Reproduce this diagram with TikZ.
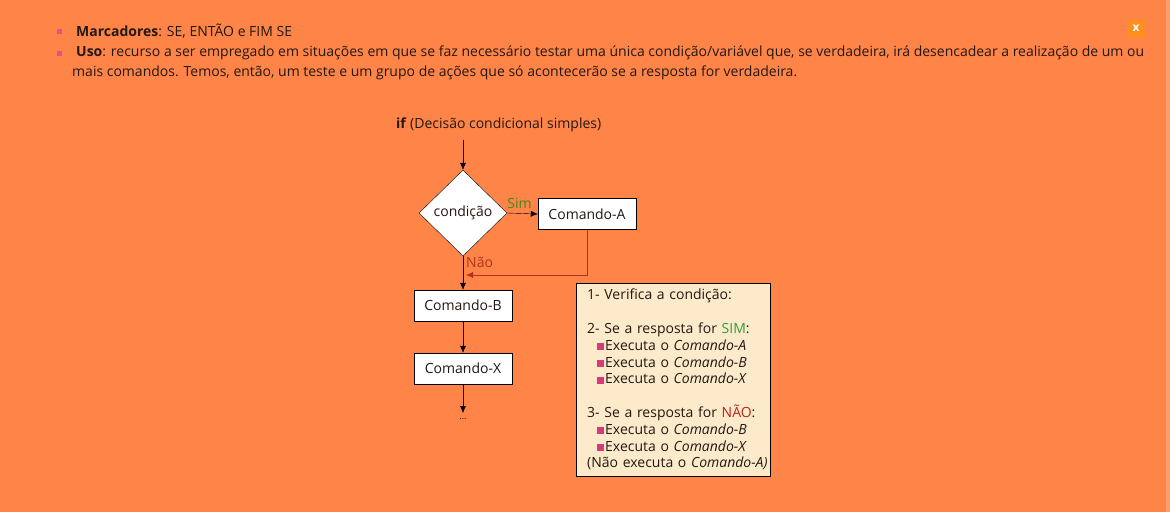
\documentclass[tikz,border=0pt]{standalone}
\usepackage{fontspec}
\setmainfont{Open Sans}
\usepackage{xcolor}
\usetikzlibrary{shapes.geometric,arrows.meta}
\definecolor{fundo}{HTML}{FF8448}
\definecolor{botao}{HTML}{FF9020}
\definecolor{rosa}{HTML}{D63A78}
\definecolor{marca}{HTML}{E0528A}
\definecolor{papel}{HTML}{FCEACB}
\definecolor{verde}{HTML}{2E9E3A}
\definecolor{verdeseta}{HTML}{3F8A22}
\definecolor{vermelho}{HTML}{B8241C}
\definecolor{retorno}{HTML}{B0341C}
\definecolor{texto}{HTML}{231812}
\newcommand{\passo}{\hspace*{10pt}\textcolor{rosa}{\rule{7pt}{7pt}}\hspace{1pt}}

\begin{document}
\begin{tikzpicture}[x=1pt,y=-1pt,
  every node/.style={font=\fontsize{14}{16.8}\selectfont,text=texto},
  caixa/.style={draw=black,fill=white,minimum width=98pt,minimum height=31pt,inner sep=0pt},
  decisao/.style={diamond,draw=black,fill=white,minimum width=88pt,minimum height=86pt,inner sep=0pt},
  seta/.style={-{Latex[length=7pt,width=6pt]},black},
  quadro/.style={draw=black,fill=papel,align=left,text width=172pt,inner xsep=11pt,inner ysep=5pt,minimum height=193pt}]
  \fill[fundo] (0,0) rectangle (1170,512);
  \useasboundingbox (0,0) rectangle (1170,512);
  \fill[fundo!80!white] (1166,0) rectangle (1170,512);
  \fill[marca] (57,29) rectangle (62,34);
  \node[anchor=west,inner sep=0pt] (marcadores) at (76,31) {\textbf{Marcadores}: SE, ENTÃO e FIM SE};
  \fill[marca] (57,51) rectangle (62,56);
  \node[anchor=west,inner sep=0pt] (uso) at (76,53) {\textbf{Uso}: recurso a ser empregado em situações em que se faz necessário testar uma única condição/variável que, se verdadeira, irá desencadear a realização de um ou};
  \node[anchor=west,inner sep=0pt] (uso2) at (72,73) {mais comandos. Temos, então, um teste e um grupo de ações que só acontecerão se a resposta for verdadeira.};
  \node[fill=botao,minimum size=18pt,inner sep=0pt,text=white,font=\fontsize{12}{12}\selectfont\bfseries] (fechar) at (1136,28.5) {x};

  \node[anchor=west,inner sep=0pt] (titulo) at (396,125) {\textbf{if} (Decisão condicional simples)};
  \coordinate (inicio) at (463,140);
  \node[decisao] (cond) at (463,213) {condição};
  \node[caixa] (cmdA) at (587,214) {Comando-A};
  \node[caixa] (cmdB) at (463,305.5) {Comando-B};
  \node[caixa] (cmdX) at (463,368.5) {Comando-X};
  \coordinate (fimseta) at (463,413);
  \node[inner sep=0pt,font=\fontsize{9}{9}\selectfont] (fim) at (463,419) {...};
  \coordinate (volta) at (466,275);

  \draw[seta] (inicio) -- (cond.north);
  \draw[seta] (cond.east) -- node[above,pos=0.4,inner sep=5pt,text=verdeseta] {Sim} (cmdA.west);
  \draw[seta,draw=retorno,-{Latex[length=7pt,width=6pt]}] (cmdA.south) |- (volta);
  \draw[seta] (cond.south) -- node[pos=0.2,anchor=west,inner sep=3pt,text=retorno] {Não} (cmdB.north);
  \draw[seta] (cmdB) -- (cmdX);
  \draw[seta] (cmdX) -- (fimseta);

  \node[quadro,anchor=north west] (resumo) at (576,283) {1- Verifica a condição:\\[16.8pt]
    2- Se a resposta for \textcolor{verde}{SIM}:\\
    \passo Executa o \textit{Comando-A}\\
    \passo Executa o \textit{Comando-B}\\
    \passo Executa o \textit{Comando-X}\\[16.8pt]
    3- Se a resposta for \textcolor{vermelho}{NÃO}:\\
    \passo Executa o \textit{Comando-B}\\
    \passo Executa o \textit{Comando-X}\\
    \mbox{(Não executa o \textit{Comando-A)}}};
\end{tikzpicture}
\end{document}
